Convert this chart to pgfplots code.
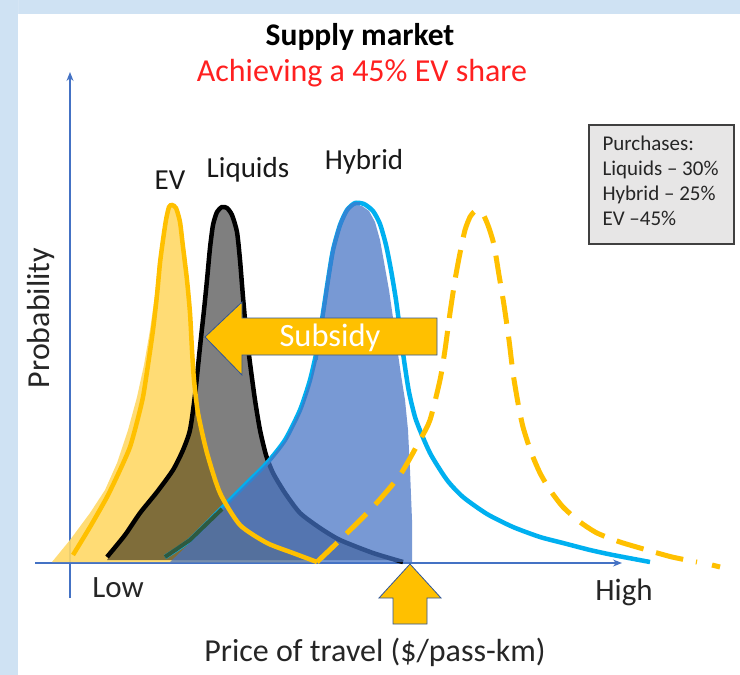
\documentclass[border=0pt]{standalone}
\usepackage{pgfplots}
\pgfplotsset{compat=1.18}
\usepackage{fontspec}
\setmainfont{Carlito}
\usetikzlibrary{arrows.meta}
\definecolor{bgblue}{HTML}{CFE2F3}
\definecolor{evfill}{HTML}{FFD966}
\definecolor{evline}{HTML}{FFC000}
\definecolor{hybfill}{HTML}{4472C4}
\definecolor{hybline}{HTML}{00B0F0}
\definecolor{hybleft}{HTML}{2F86D6}
\definecolor{axblue}{HTML}{4472C4}
\definecolor{arrowedge}{HTML}{2F5597}
\definecolor{legfill}{HTML}{E7E6E6}
\definecolor{tailgreen}{HTML}{2E5A40}
\definecolor{titlered}{HTML}{FF2020}
\begin{document}
\begin{tikzpicture}
\begin{axis}[width=740pt, height=675pt, scale only axis,
  xmin=0, xmax=740, ymin=0, ymax=675, y dir=reverse,
  hide axis, clip=false]
% background
\addplot[draw=none, fill=bgblue] coordinates {(0,0) (740,0) (740,675) (0,675)} \closedcycle;
\addplot[draw=none, fill=white] coordinates {(18,14) (740,14) (740,675) (18,675)} \closedcycle;
% axes
\draw[axblue, line width=1.3pt, -{Stealth[length=9pt,width=7pt]}] (axis cs:70,598) -- (axis cs:70,72);
\draw[axblue, line width=1.3pt, -{Stealth[length=9pt,width=7pt]}] (axis cs:35,563) -- (axis cs:622,563);
% EV fill
\addplot[draw=none, fill=evfill, fill opacity=0.9] coordinates {
(52,562) (70,540) (90,513) (105,490) (117,463) (128,430) (137,397) (144,365) (150,330) (155,295) (158,263) (162,238) (166,218) (170,206) (173,205) (177,210) (182,228) (186,255) (189,285) (191,320) (193,360) (195,395) (199,415) (207,450) (220,493) (240,525) (267,543) (293,553) (317,562)} -- cycle;
% Liquids fill
\addplot[draw=none, fill=black, fill opacity=0.5] coordinates {
(107,560) (125,535) (140,513) (157,492) (173,470) (183,450) (190,430) (195,395) (200,347) (204,310) (207,280) (210,248) (213,225) (217,212) (222,207) (227,208) (232,215) (237,232) (240,260) (243,297) (246,330) (250,363) (255,400) (260,430) (266,455) (273,473) (285,493) (300,513) (320,528) (340,540) (373,553) (403,560)} -- cycle;
% Liquids line
\addplot[black, line width=4.5pt, smooth, tension=0.4] coordinates {
(107,557) (125,535) (140,513) (157,492) (173,470) (183,450) (190,430) (195,395) (200,347) (204,310) (207,280) (210,248) (213,225) (217,212) (222,207) (227,208) (232,215) (237,232) (240,260) (243,297) (246,330) (250,363) (255,400) (260,430) (266,455) (273,473) (285,493) (300,513) (320,528) (340,540) (373,553) (403,562)};
% Hybrid line
\addplot[hybline, line width=4.5pt, smooth, tension=0.4] coordinates {
(165,557) (190,540) (220,510) (245,485) (267,463) (285,440) (300,410) (310,380) (318,345) (323,313) (328,280) (333,250) (340,225) (347,210) (355,203) (364,204) (373,211) (380,224) (386,245) (391,270) (396,300) (400,330) (404,360) (409,392) (416,420) (430,453) (447,480) (463,497) (487,514) (513,527) (540,537) (563,543) (590,550) (613,555) (650,562)};
% Hybrid fill
\addplot[draw=none, fill=hybfill, fill opacity=0.72] coordinates {
(170,562) (190,543) (220,510) (245,485) (267,463) (285,440) (300,410) (310,380) (318,345) (323,313) (328,280) (333,250) (340,225) (347,210) (355,205) (362,206) (369,211) (375,222) (380,240) (384,262) (389,290) (393,318) (397,347) (401,375) (405,400) (408,430) (410,470) (412,520) (412,562)} -- cycle;
% hybrid left edge (darker blue)
\addplot[hybleft, line width=3.5pt, smooth, tension=0.4] coordinates {
(316,360) (318,345) (323,313) (328,280) (333,250) (340,225) (347,210) (354,204) (360,204)};
% hybrid tail seen through
\addplot[tailgreen, line width=4pt] coordinates {(165,557) (190,540) (222,509)};
% EV line
\addplot[evline, line width=4.5pt, smooth, tension=0.4] coordinates {
(73,555) (90,527) (107,497) (120,470) (130,447) (137,422) (143,397) (148,365) (153,330) (157,295) (160,263) (163,240) (166,220) (169,207) (172,205) (176,208) (180,222) (183,247) (187,280) (190,313) (192,350) (194,380) (198,413) (207,453) (220,493) (240,525) (267,543) (293,553) (317,562)};
% EV without subsidy (dashed)
\addplot[evline, line width=5pt, dash pattern=on 28pt off 13pt, smooth, tension=0.4] coordinates {
(317,562) (340,540) (373,507) (400,475) (420,440) (430,420) (440,380) (445,350) (450,313) (455,280) (460,253) (465,230) (470,217) (475,211) (479,211) (484,216) (489,228) (494,245) (499,275) (504,305) (509,340) (513,373) (518,403) (523,427) (531,452) (540,473) (550,490) (563,507) (580,522) (597,533) (620,542) (647,550) (672,557) (697,562)};
\addplot[evline, line width=5pt] coordinates {(712,565) (720,567)};
% Subsidy arrow
\addplot[draw=arrowedge, line width=0.8pt, fill=evline] coordinates {
(205,337) (242,302) (242,318) (437,318) (437,355) (242,355) (242,375)} -- cycle;
\node[white, font=\fontsize{32.5}{38}\selectfont] at (axis cs:330,338) {Subsidy};
% bottom arrow
\addplot[draw=arrowedge, line width=0.8pt, fill=evline] coordinates {
(410,564) (441,598) (427,598) (427,624) (393,624) (393,598) (379,598)} -- cycle;
% legend box
\addplot[draw=black!75, line width=1.3pt, fill=legfill] coordinates {(589,125) (734,125) (734,244) (589,244)} -- cycle;
\node[anchor=west, font=\fontsize{21}{24}\selectfont, text=black!85] at (axis cs:599,143) {Purchases:};
\node[anchor=west, font=\fontsize{21}{24}\selectfont, text=black!85] at (axis cs:599,170) {Liquids -- 30\%};
\node[anchor=west, font=\fontsize{21}{24}\selectfont, text=black!85] at (axis cs:599,195) {Hybrid -- 25\%};
\node[anchor=west, font=\fontsize{21}{24}\selectfont, text=black!85] at (axis cs:599,218) {EV --45\%};
% titles
\node[font=\bfseries\fontsize{31.5}{36}\selectfont] at (axis cs:360,37) {Supply market};
\node[text=titlered, font=\fontsize{32}{38}\selectfont] at (axis cs:362,73) {Achieving a 45\% EV share};
% curve labels
\node[font=\fontsize{29}{34}\selectfont, text=black!90] at (axis cs:170,180) {EV};
\node[font=\fontsize{29}{34}\selectfont, text=black!90] at (axis cs:248,170) {Liquids};
\node[font=\fontsize{29}{34}\selectfont, text=black!90] at (axis cs:364,162) {Hybrid};
% axis labels
\node[font=\fontsize{32}{38}\selectfont, text=black!85, rotate=90] at (axis cs:41,318) {Probability};
\node[font=\fontsize{31}{36}\selectfont, text=black!85] at (axis cs:118,588) {Low};
\node[font=\fontsize{31}{36}\selectfont, text=black!85] at (axis cs:624,592) {High};
\node[font=\fontsize{32}{38}\selectfont, text=black!85] at (axis cs:375,652) {Price of travel (\$/pass-km)};
\end{axis}
\end{tikzpicture}
\end{document}
